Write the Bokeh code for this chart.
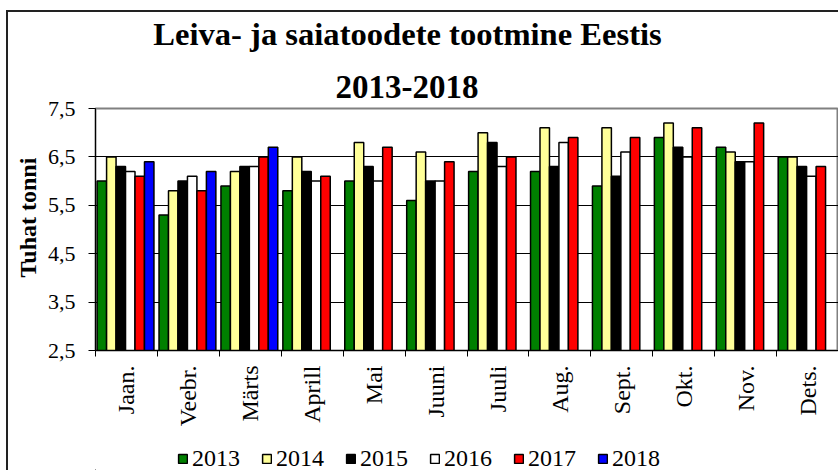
import math
from bokeh.plotting import figure
from bokeh.layouts import column
from bokeh.models import (ColumnDataSource, FixedTicker, Legend, LegendItem, Label,
                          Range1d, Title)
from bokeh.embed import file_html
from bokeh.resources import INLINE

months = ["Jaan.", "Veebr.", "Märts", "Aprill", "Mai", "Juuni", "Juuli",
          "Aug.", "Sept.", "Okt.", "Nov.", "Dets."]
years = ["2013", "2014", "2015", "2016", "2017", "2018"]
v2013 = [6.0, 5.3, 5.9, 5.8, 6.0, 5.6, 6.2, 6.2, 5.9, 6.9, 6.7, 6.5]
v2014 = [6.5, 5.8, 6.2, 6.5, 6.8, 6.6, 7.0, 7.1, 7.1, 7.2, 6.6, 6.5]
v2015 = [6.3, 6.0, 6.3, 6.2, 6.3, 6.0, 6.8, 6.3, 6.1, 6.7, 6.4, 6.3]
v2016 = [6.2, 6.1, 6.3, 6.0, 6.0, 6.0, 6.3, 6.8, 6.6, 6.5, 6.4, 6.1]
v2017 = [6.1, 5.8, 6.5, 6.1, 6.7, 6.4, 6.5, 6.9, 6.9, 7.1, 7.2, 6.3]
v2018 = [6.4, 6.2, 6.7, None, None, None, None, None, None, None, None, None]
series = [v2013, v2014, v2015, v2016, v2017, v2018]
colors = ["#008000", "#FFFF99", "#000000", "#FFFFFF", "#FF0000", "#0000FF"]
y_ticks = [2.5, 3.5, 4.5, 5.5, 6.5, 7.5]
y_tick_labels = ["2,5", "3,5", "4,5", "5,5", "6,5", "7,5"]
title_line1 = "Leiva- ja saiatoodete tootmine Eestis"
title_line2 = "2013-2018"
y_label = "Tuhat tonni"

FONT = "Liberation Serif"
W = 830


def bare_figure(height):
    f = figure(width=W, height=height, x_range=Range1d(0, 1), y_range=Range1d(0, 1),
               output_backend="svg", toolbar_location=None, title=None,
               x_axis_location=None, y_axis_location=None, min_border=0)
    f.grid.visible = False
    f.outline_line_color = None
    f.background_fill_color = "white"
    f.border_fill_color = "white"
    return f


# ---- first title line (its frame is aligned with the chart frame) ----
t = bare_figure(42)
t.add_layout(Label(x=312, y=21, x_units="screen", y_units="screen", text=title_line1,
                   text_align="center", text_baseline="alphabetic", text_font=FONT,
                   text_font_size="32.6px", text_font_style="bold", text_color="black"))

# ---- main chart ----
p = figure(width=W, height=386, x_range=Range1d(0, 12), y_range=Range1d(2.5, 7.5),
           output_backend="svg", toolbar_location=None, title=None,
           min_border_left=87, min_border_top=54, min_border_bottom=90,
           min_border_right=0)
p.background_fill_color = "white"
p.border_fill_color = "white"
p.outline_line_color = "#808080"
p.outline_line_width = 2

# second title line
p.add_layout(Title(text=title_line2, align="left", offset=240, standoff=22,
                   text_font=FONT, text_font_size="33px", text_font_style="bold",
                   text_color="black"), "above")

bw = 0.153
for k, (vals, col) in enumerate(zip(series, colors)):
    xs, tops = [], []
    for i, v in enumerate(vals):
        if v is not None:
            xs.append(i + 0.5 + (k - 2.5) * bw - 0.015)
            tops.append(v)
    src = ColumnDataSource(dict(x=xs, top=tops))
    p.vbar(x="x", top="top", bottom=2.5, width=bw, source=src,
           fill_color=col, line_color="black", line_width=1.5)

p.xaxis.ticker = FixedTicker(ticks=[i + 0.5 for i in range(len(months))],
                             minor_ticks=list(range(len(months) + 1)))
p.xaxis.major_label_overrides = {i + 0.5: m for i, m in enumerate(months)}
p.xaxis.major_label_orientation = math.pi / 2
p.xaxis.major_tick_line_color = None
p.xaxis.major_tick_out = 6
p.xaxis.major_tick_in = 0
p.xaxis.minor_tick_out = 6
p.xaxis.minor_tick_in = 0
p.xaxis.minor_tick_line_color = "black"
p.xaxis.major_label_standoff = 9
p.xaxis.major_label_text_font = FONT
p.xaxis.major_label_text_font_size = "24px"
p.xaxis.major_label_text_color = "black"
p.xaxis.axis_line_color = "black"

p.yaxis.ticker = FixedTicker(ticks=y_ticks)
p.yaxis.major_label_overrides = {tk: s for tk, s in zip(y_ticks, y_tick_labels)}
p.yaxis.major_tick_out = 7
p.yaxis.major_tick_in = 0
p.yaxis.minor_tick_line_color = None
p.yaxis.major_label_standoff = 13
p.yaxis.major_label_text_font = FONT
p.yaxis.major_label_text_font_size = "22px"
p.yaxis.major_label_text_color = "black"
p.yaxis.axis_line_color = "black"

# y-axis title, placed like the original (not centred on the frame)
p.add_layout(Title(text=y_label, align="left", offset=73, standoff=8,
                   text_font=FONT, text_font_size="24px", text_font_style="bold",
                   text_color="black"), "left")

p.xgrid.visible = False
p.ygrid.ticker = FixedTicker(ticks=y_ticks[1:-1])
p.ygrid.grid_line_color = "black"
p.ygrid.grid_line_width = 1

# ---- legend block ----
lg = bare_figure(30)
items = []
for yr, col in zip(years, colors):
    # legend swatch source only: placed far outside the visible range
    r = lg.vbar(x=[-50], top=[-50], bottom=-51, width=0.1, fill_color=col,
                line_color="black", line_width=1.5)
    items.append(LegendItem(label=yr, renderers=[r]))
legend = Legend(items=items, orientation="horizontal", location=(82, -2),
                glyph_width=11, glyph_height=11, label_standoff=4, spacing=21,
                padding=0, margin=0, border_line_color=None,
                background_fill_alpha=0, label_text_font=FONT,
                label_text_color="black",
                label_text_font_size="24px", label_height=22)
lg.add_layout(legend)

layout = column(t, p, lg, spacing=0)
layout.styles = {"margin-left": "6px", "margin-top": "10px",
                 "border-left": "2px solid #222", "border-top": "2px solid #222"}

open("out.html", "w").write(file_html(layout, INLINE))
